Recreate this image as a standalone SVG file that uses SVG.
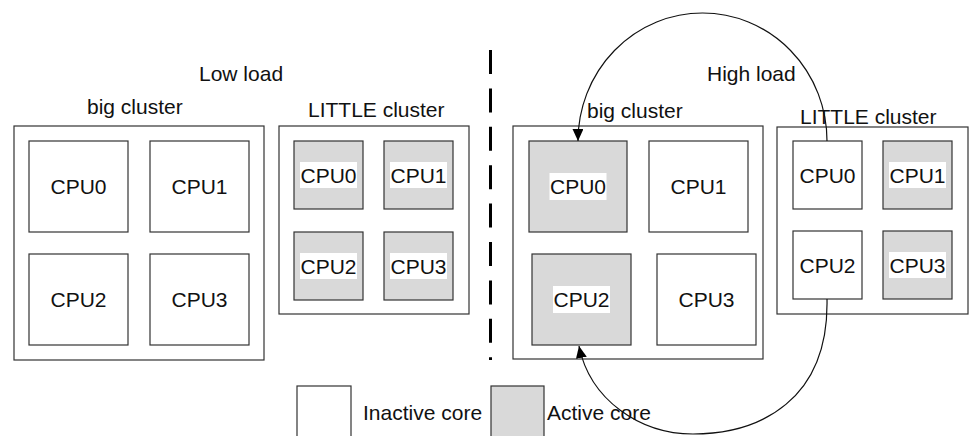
<svg xmlns="http://www.w3.org/2000/svg" width="972" height="436" viewBox="0 0 972 436">
<defs>
<style>
text{font-family:"Liberation Sans",Arial,sans-serif;font-size:21px;fill:#111}
.c{text-anchor:middle}
.box{fill:#fff;stroke:#333;stroke-width:1.2}
.act{fill:#d9d9d9;stroke:#333;stroke-width:1.2}
.hl{fill:#fff}
.conn{fill:none;stroke:#111;stroke-width:1.2}
</style>
<marker id="ah" markerUnits="userSpaceOnUse" markerWidth="12" markerHeight="11" refX="12" refY="5.5" orient="auto">
<path d="M0,0 L12,5.5 L0,11 z" fill="#000"/>
</marker>
</defs>
<rect width="972" height="436" fill="#fff"/>

<text x="199" y="81">Low load</text>
<text x="707" y="81">High load</text>
<line x1="490.5" y1="50" x2="490.5" y2="360" stroke="#000" stroke-width="3" stroke-dasharray="24 14.4"/>

<g id="low-big">
<text x="87" y="114">big cluster</text>
<rect class="box" x="14" y="126" width="250" height="234"/>
<g id="low-big-cpu0"><rect class="box" x="29" y="141" width="99" height="91"/><text class="c" x="78.5" y="193.5">CPU0</text></g>
<g id="low-big-cpu1"><rect class="box" x="150" y="141" width="99" height="91"/><text class="c" x="199.5" y="193.5">CPU1</text></g>
<g id="low-big-cpu2"><rect class="box" x="29" y="254" width="99" height="91"/><text class="c" x="78.5" y="306.5">CPU2</text></g>
<g id="low-big-cpu3"><rect class="box" x="150" y="254" width="99" height="91"/><text class="c" x="199.5" y="306.5">CPU3</text></g>
</g>

<g id="low-little">
<text x="308" y="117">LITTLE cluster</text>
<rect class="box" x="279" y="126" width="190" height="188"/>
<g id="low-little-cpu0"><rect class="act" x="294" y="141" width="69" height="68"/><rect class="hl" x="300" y="162" width="57" height="26"/><text class="c" x="328.5" y="182.5">CPU0</text></g>
<g id="low-little-cpu1"><rect class="act" x="384" y="141" width="69" height="68"/><rect class="hl" x="390" y="162" width="57" height="26"/><text class="c" x="418.5" y="182.5">CPU1</text></g>
<g id="low-little-cpu2"><rect class="act" x="294" y="232" width="69" height="68"/><rect class="hl" x="300" y="253" width="57" height="26"/><text class="c" x="328.5" y="273.5">CPU2</text></g>
<g id="low-little-cpu3"><rect class="act" x="384" y="232" width="69" height="68"/><rect class="hl" x="390" y="253" width="57" height="26"/><text class="c" x="418.5" y="273.5">CPU3</text></g>
</g>

<g id="high-big">
<text x="587" y="118">big cluster</text>
<rect class="box" x="513" y="126" width="250" height="233"/>
<g id="high-big-cpu0"><rect class="act" x="529" y="141" width="98" height="91"/><rect class="hl" x="549.5" y="173" width="57" height="27"/><text class="c" x="578" y="194">CPU0</text></g>
<g id="high-big-cpu1"><rect class="box" x="649" y="141" width="99" height="91"/><text class="c" x="698.5" y="194">CPU1</text></g>
<g id="high-big-cpu2"><rect class="act" x="532" y="254" width="99" height="91"/><rect class="hl" x="553" y="286" width="57" height="27"/><text class="c" x="581.5" y="307">CPU2</text></g>
<g id="high-big-cpu3"><rect class="box" x="657" y="254" width="99" height="91"/><text class="c" x="706.5" y="307">CPU3</text></g>
</g>

<g id="high-little">
<text x="800" y="124">LITTLE cluster</text>
<rect class="box" x="777" y="127" width="191" height="187"/>
<g id="high-little-cpu0"><rect class="box" x="793" y="141" width="69" height="68"/><text class="c" x="827.5" y="182.5">CPU0</text></g>
<g id="high-little-cpu1"><rect class="act" x="883" y="141" width="69" height="68"/><rect class="hl" x="889" y="162" width="57" height="26"/><text class="c" x="917.5" y="182.5">CPU1</text></g>
<g id="high-little-cpu2"><rect class="box" x="793" y="231" width="69" height="68"/><text class="c" x="827.5" y="272.5">CPU2</text></g>
<g id="high-little-cpu3"><rect class="act" x="883" y="231" width="69" height="68"/><rect class="hl" x="889" y="252" width="57" height="26"/><text class="c" x="917.5" y="272.5">CPU3</text></g>
</g>

<g id="connectors">
<path class="conn" d="M827,141 A124.5,128 0 0 0 578,141" marker-end="url(#ah)"/>
<path class="conn" d="M827,299 C829,400 760,434 693,434 C640,434 590,400 579,346" marker-end="url(#ah)"/>
</g>

<g id="legend-inactive">
<rect class="box" x="297" y="386" width="54" height="60"/>
<text x="363" y="420">Inactive core</text>
</g>
<g id="legend-active">
<rect class="act" x="491" y="386" width="53" height="60"/>
<text x="547" y="420">Active core</text>
</g>
</svg>
